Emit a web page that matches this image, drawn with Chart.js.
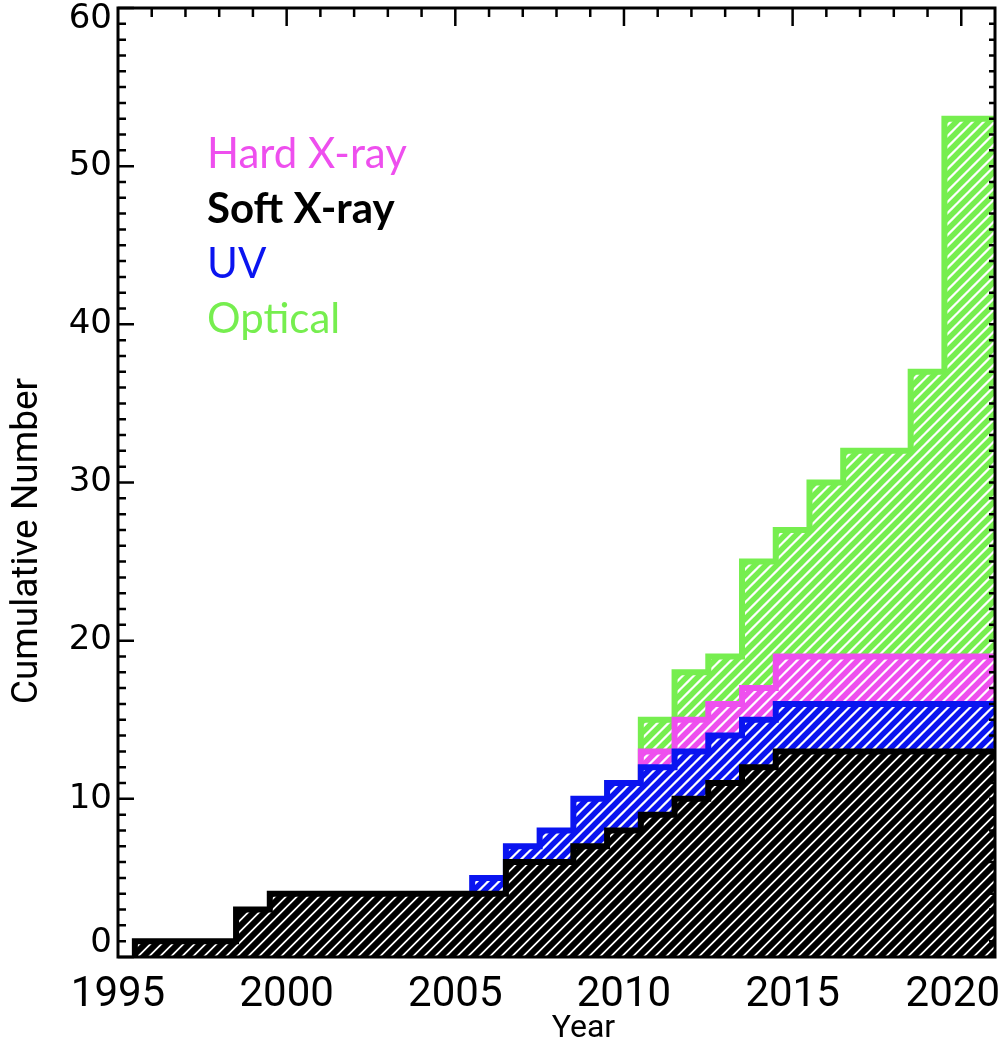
<!DOCTYPE html>
<html>
<head>
<meta charset="utf-8">
<script src="https://cdn.jsdelivr.net/npm/chart.js@4.4.0/dist/chart.umd.min.js"></script>
<style>
  body { margin: 0; background: #fff; }
  #wrap { width: 1004px; height: 1047px; }
</style>
</head>
<body>
<div id="wrap"><canvas id="chart" width="1004" height="1047"></canvas></div>
<script>
// bin centres (one bin per year), cumulative level at the top of each band
const years = [1996, 1997, 1998, 1999, 2000, 2001, 2002, 2003, 2004, 2005, 2006, 2007, 2008,
               2009, 2010, 2011, 2012, 2013, 2014, 2015, 2016, 2017, 2018, 2019, 2020];
const softXray = [1, 1, 1, 3, 4, 4, 4, 4, 4, 4, 4, 6, 6, 7, 8, 9, 10, 11, 12, 13, 13, 13, 13, 13, 13];
const uv       = [null, null, null, null, null, null, null, null, null, null,
                  5, 7, 8, 10, 11, 12, 13, 14, 15, 16, 16, 16, 16, 16, 16];
const hardXray = [null, null, null, null, null, null, null, null, null, null,
                  null, null, null, null, null, 13, 15, 16, 17, 19, 19, 19, 19, 19, 19];
const optical  = [null, null, null, null, null, null, null, null, null, null,
                  null, null, null, null, 11, 15, 18, 19, 25, 27, 30, 32, 32, 37, 53];

const xTicks = [1995, 2000, 2005, 2010, 2015, 2020];
const yTicks = [0, 10, 20, 30, 40, 50, 60];
const legendLabels = ['Hard X-ray', 'Soft X-ray', 'UV', 'Optical'];

const X_MIN = 1995, X_MAX = 2021;
const colors = {
    hard: '#ee4fee',
    soft: '#000000',
    uv: '#0a14f0',
    optical: '#76ee4f'
};

// diagonal hatch fill on white
function hatch(color, width) {
    const s = 11;
    const c = document.createElement('canvas');
    c.width = s; c.height = s;
    const g = c.getContext('2d');
    g.fillStyle = '#fff';
    g.fillRect(0, 0, s, s);
    g.strokeStyle = color;
    g.lineWidth = width;
    g.beginPath();
    g.moveTo(-s / 2, s / 2); g.lineTo(s / 2, -s / 2);
    g.moveTo(0, s); g.lineTo(s, 0);
    g.moveTo(s / 2, s * 1.5); g.lineTo(s * 1.5, s / 2);
    g.stroke();
    return g.createPattern(c, 'repeat');
}

// step outline: vertical rise at the first bin edge, flat to the axis end
function steps(vals) {
    const pts = [];
    let last = null;
    years.forEach((yr, i) => {
        if (vals[i] === null) return;
        if (last === null) pts.push({x: yr - 0.5, y: 0});
        pts.push({x: yr - 0.5, y: vals[i]});
        last = vals[i];
    });
    pts.push({x: X_MAX, y: last});
    return pts;
}

function band(vals, color, hw) {
    return {
        data: steps(vals),
        stepped: 'before',
        borderColor: color,
        borderWidth: 6,
        backgroundColor: hatch(color, hw),
        fill: 'origin',
        pointRadius: 0,
        borderJoinStyle: 'miter'
    };
}

const frame = {
    id: 'frame',
    afterDatasetsDraw(chart) {
        const {ctx, chartArea: a, scales: {x, y}} = chart;
        ctx.save();
        ctx.strokeStyle = '#000';
        ctx.lineWidth = 3;
        ctx.strokeRect(a.left, a.top, a.right - a.left, a.bottom - a.top);
        ctx.lineWidth = 2.5;
        ctx.beginPath();
        for (let v = 0; v <= 60; v++) {
            const py = y.getPixelForValue(v);
            const len = v % 10 === 0 ? 16 : 8;
            ctx.moveTo(a.left, py); ctx.lineTo(a.left + len, py);
            if (v > 0 && v < 60) { ctx.moveTo(a.right, py); ctx.lineTo(a.right - 6, py); }
        }
        for (let yr = X_MIN + 1; yr < X_MAX; yr++) {
            const px = x.getPixelForValue(yr);
            const len = yr % 5 === 0 ? 18 : 9;
            ctx.moveTo(px, a.top); ctx.lineTo(px, a.top + len);
        }
        ctx.stroke();
        ctx.restore();
    },
    afterDraw(chart) {
        const {ctx, chartArea: a, scales: {x, y}} = chart;
        const W = chart.width;
        ctx.save();
        ctx.fillStyle = '#000';

        // tick labels, kept inside the canvas at the ends
        ctx.font = '34px DejaVu Sans';
        ctx.textAlign = 'right';
        ctx.textBaseline = 'middle';
        yTicks.forEach(v => {
            const py = Math.min(Math.max(y.getPixelForValue(v), a.top + 11), a.bottom - 14);
            ctx.fillText(String(v), a.left - 6, py);
        });
        ctx.font = '42px Roboto';
        ctx.textAlign = 'center';
        xTicks.forEach(v => {
            const label = String(v);
            const hw = ctx.measureText(label).width / 2;
            const px = Math.min(x.getPixelForValue(v), W - 4 - hw);
            ctx.fillText(label, px, a.bottom + 38);
        });

        // axis titles
        ctx.font = '32px Roboto';
        ctx.fillText('Year', x.getPixelForValue(2008.8), 1029);
        ctx.save();
        ctx.translate(28, y.getPixelForValue(26.3));
        ctx.rotate(-Math.PI / 2);
        ctx.font = '37px Roboto';
        ctx.fillText('Cumulative Number', 0, 0);
        ctx.restore();

        // legend text
        const cols = [colors.hard, colors.soft, colors.uv, colors.optical];
        ctx.textBaseline = 'alphabetic';
        ctx.textAlign = 'left';
        legendLabels.forEach((t, i) => {
            ctx.font = (i === 1 ? 'bold ' : '') + '42px Lato';
            ctx.fillStyle = cols[i];
            ctx.fillText(t, a.left + 89, a.top + 160 + i * 55);
        });
        ctx.restore();
    }
};

new Chart(document.getElementById('chart'), {
    type: 'line',
    data: {
        datasets: [
            band(softXray, colors.soft, 6),
            band(uv, colors.uv, 5.5),
            band(hardXray, colors.hard, 5.5),
            band(optical, colors.optical, 5.5)
        ]
    },
    options: {
        responsive: false,
        animation: false,
        layout: { padding: { top: 8, right: 9, left: 0, bottom: 0 } },
        plugins: { legend: { display: false }, tooltip: { enabled: false } },
        scales: {
            x: {
                type: 'linear',
                min: X_MIN,
                max: X_MAX,
                afterFit: (s) => { s.height = 90; s.paddingLeft = 0; s.paddingRight = 0; },
                afterBuildTicks: (s) => { s.ticks = xTicks.map(v => ({value: v})); },
                grid: { display: false, drawTicks: false },
                border: { display: false },
                ticks: { display: false }
            },
            y: {
                min: 0,
                max: 60,
                afterFit: (s) => { s.width = 118; s.paddingTop = 0; s.paddingBottom = 0; },
                afterBuildTicks: (s) => { s.ticks = yTicks.map(v => ({value: v})); },
                grid: { display: false, drawTicks: false },
                border: { display: false },
                ticks: { display: false }
            }
        }
    },
    plugins: [frame]
});
</script>
</body>
</html>
